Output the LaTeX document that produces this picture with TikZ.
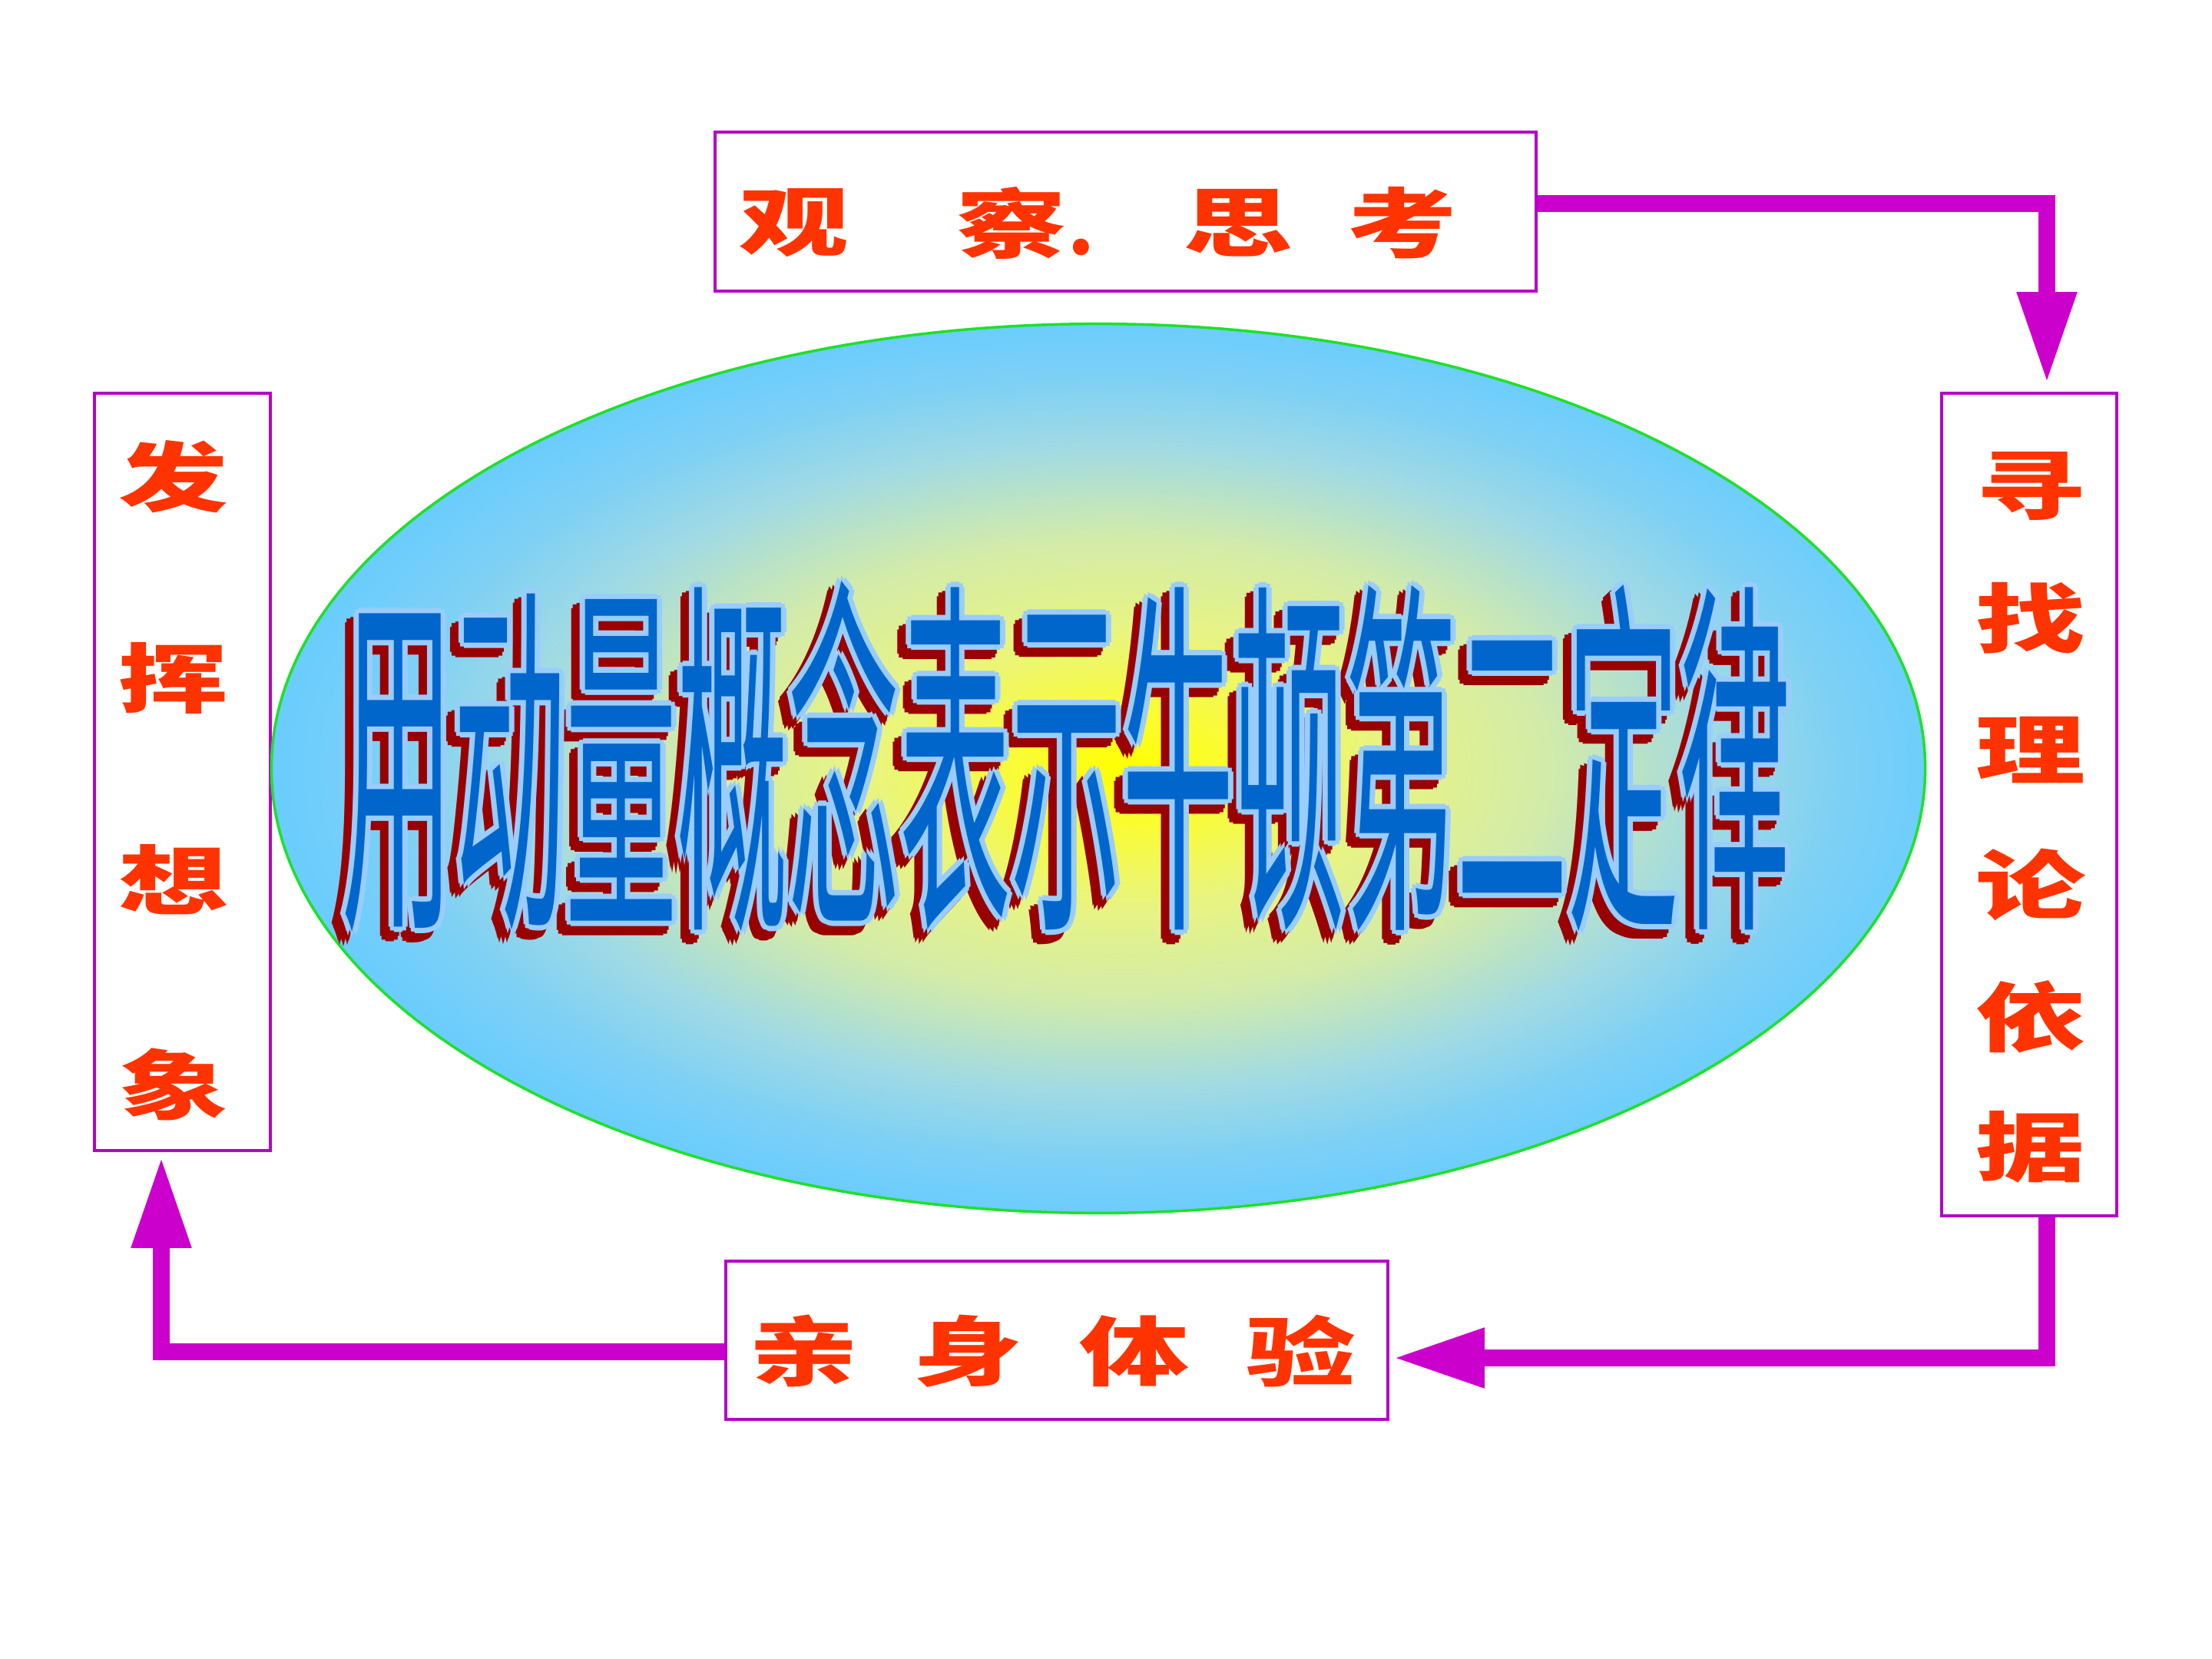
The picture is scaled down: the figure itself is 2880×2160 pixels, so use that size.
\documentclass[tikz,border=0pt]{standalone}
\usepackage{fontspec}
\usepackage{graphicx}
\usetikzlibrary{arrows.meta,shapes.geometric,calc}
\newfontfamily\cjk{Noto Sans CJK SC}
\definecolor{lblred}{RGB}{255,51,0}
\definecolor{boxpurple}{RGB}{180,0,200}
\definecolor{arrowmag}{RGB}{204,0,204}
\definecolor{ellgreen}{RGB}{30,225,40}
\definecolor{tblue}{RGB}{0,102,204}
\definecolor{tlight}{RGB}{153,204,255}
\definecolor{tshadow}{RGB}{153,0,0}
\definecolor{shA}{RGB}{255,255,0}
\definecolor{shB}{RGB}{250,252,50}
\definecolor{shC}{RGB}{232,244,130}
\definecolor{shD}{RGB}{210,235,170}
\definecolor{shE}{RGB}{160,218,228}
\definecolor{shF}{RGB}{125,208,245}
\definecolor{shG}{RGB}{102,204,255}
\pgfdeclareradialshading{ellshade}{\pgfpoint{0.9bp}{0bp}}{%
  color(0bp)=(shA); color(3.1bp)=(shB); color(7.8bp)=(shC); color(13bp)=(shD);
  color(18.2bp)=(shE); color(22bp)=(shF); color(26bp)=(shG); color(50bp)=(shG)}
\newcommand\wideglyph[1]{\scalebox{1.45}[1]{#1}}
\newcommand\ttlayer[1]{\resizebox*{18.85cm}{4.85cm}{\cjk\color{#1}\rule[-0.12em]{0pt}{1em}用动量概念表示牛顿第二定律}}
\begin{document}
\begin{tikzpicture}[x=0.01cm,y=-0.01cm,
  box/.style={draw=boxpurple, line width=1.1pt, fill=white, inner sep=0pt, rectangle},
  lbl/.style={text=lblred, font=\cjk\bfseries\fontsize{28}{28}\selectfont, inner sep=0pt},
  conn/.style={draw=arrowmag, line width=6.5pt, line join=miter, -{Triangle[length=34pt,width=20.5pt]}},
  layer/.style={inner sep=0pt}]
\useasboundingbox[fill=white] (0,0) rectangle (2880,2160);
% boxes
\node[box, minimum width=10.69cm, minimum height=2.07cm] (top) at (1465.5,275.5) {};
\node[box, minimum width=2.28cm, minimum height=10.71cm] (right) at (2642,1047.5) {};
\node[box, minimum width=8.62cm, minimum height=2.06cm] (bottom) at (1376,1745) {};
\node[box, minimum width=2.29cm, minimum height=9.86cm] (left) at (237.5,1005) {};
% ellipse
\node[ellipse, draw=ellgreen, line width=1pt, shade, shading=ellshade,
      minimum width=21.52cm, minimum height=11.57cm, inner sep=0pt] (ell) at (1430,1000.5) {};
% title layers
\def\tx{1389}\def\ty{988}
\foreach \dx/\dy [count=\i] in {7/0,-7/0,0/7,0/-7,5/5,5/-5,-5/5,-5/-5}
  \node[layer] (sh\i) at (\tx+\dx-11,\ty+\dy+12) {\ttlayer{tshadow}};
\foreach \dx/\dy [count=\i] in {7/0,-7/0,0/7,0/-7,5/5,5/-5,-5/5,-5/-5}
  \node[layer] (ol\i) at (\tx+\dx,\ty+\dy) {\ttlayer{tlight}};
\node[layer] (title) at (\tx,\ty) {\ttlayer{tblue}};
% labels
\foreach \c/\x/\n in {观/1034/a, 察/1317/b, 思/1612/c, 考/1826/d}
  \node[lbl] (t\n) at (\x,290) {\wideglyph{\c}};
\node[lbl] (tdot) at (1408,322) {.};
\foreach \c/\y/\n in {寻/633/a, 找/805/b, 理/977/c, 论/1152/d, 依/1324/e, 据/1493/f}
  \node[lbl] (r\n) at (2644,\y) {\wideglyph{\c}};
\foreach \c/\x/\n in {亲/1047/a, 身/1260/b, 体/1477/c, 验/1694/d}
  \node[lbl] (b\n) at (\x,1759) {\wideglyph{\c}};
\foreach \c/\y/\n in {发/621/a, 挥/883/b, 想/1145/c, 象/1412/d}
  \node[lbl] (l\n) at (226,\y) {\wideglyph{\c}};
% connectors
\draw[conn] ($(top.east)+(0,-10.5)$) -| ($(right.north)+(23,-10)$);
\draw[conn] ($(right.south)+(23,0)$) |- ($(bottom.east)+(4,23)$);
\draw[conn] ($(bottom.west)+(0,15)$) -| ($(left.south)+(-27.5,5)$);
\end{tikzpicture}
\end{document}
